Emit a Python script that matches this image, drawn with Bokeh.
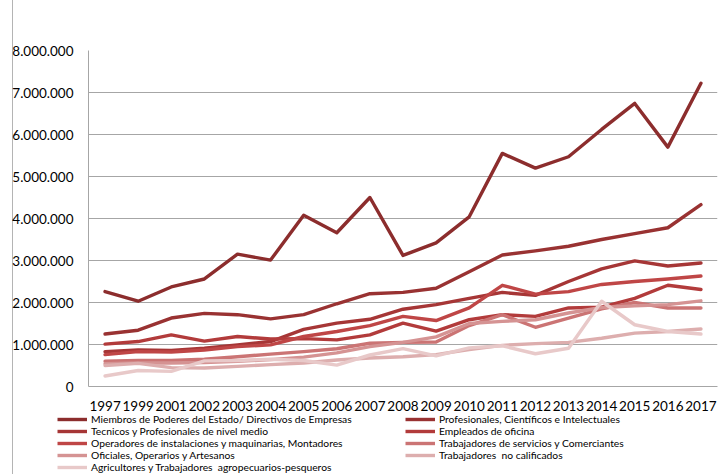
from bokeh.plotting import figure
from bokeh.layouts import column
from bokeh.models import (FactorRange, Range1d, FixedTicker, CustomJSTickFormatter,
                          Legend, LegendItem)
from bokeh.embed import file_html
from bokeh.resources import INLINE

years = ["1997", "1999", "2001", "2002", "2003", "2004", "2005", "2006", "2007", "2008",
         "2009", "2010", "2011", "2012", "2013", "2014", "2015", "2016", "2017"]

# values in millions
miembros = [2.26, 2.03, 2.37, 2.56, 3.15, 3.01, 4.08, 3.66, 4.50, 3.12, 3.42, 4.04, 5.55, 5.20, 5.47, 6.12, 6.74, 5.70, 7.22]
profesionales = [1.25, 1.34, 1.63, 1.74, 1.71, 1.61, 1.71, 1.97, 2.21, 2.24, 2.34, 2.73, 3.13, 3.23, 3.34, 3.50, 3.64, 3.78, 4.33]
tecnicos = [0.83, 0.87, 0.86, 0.91, 0.99, 1.07, 1.36, 1.51, 1.60, 1.84, 1.95, 2.10, 2.24, 2.17, 2.50, 2.80, 2.99, 2.87, 2.94]
empleados = [1.01, 1.07, 1.23, 1.08, 1.19, 1.13, 1.14, 1.11, 1.23, 1.51, 1.32, 1.59, 1.71, 1.67, 1.87, 1.89, 2.10, 2.41, 2.31]
operadores = [0.76, 0.83, 0.82, 0.87, 0.95, 0.99, 1.19, 1.31, 1.45, 1.67, 1.57, 1.87, 2.41, 2.20, 2.26, 2.43, 2.50, 2.56, 2.63]
servicios = [0.60, 0.62, 0.62, 0.65, 0.71, 0.77, 0.83, 0.90, 1.03, 1.05, 1.06, 1.45, 1.71, 1.41, 1.63, 1.85, 2.00, 1.87, 1.87]
oficiales = [0.54, 0.56, 0.56, 0.57, 0.60, 0.64, 0.70, 0.80, 0.95, 1.05, 1.18, 1.50, 1.55, 1.59, 1.75, 1.88, 1.92, 1.95, 2.04]
no_calificados = [0.50, 0.55, 0.45, 0.44, 0.48, 0.52, 0.56, 0.63, 0.68, 0.71, 0.76, 0.88, 0.98, 1.02, 1.05, 1.15, 1.27, 1.31, 1.37]
agricultores = [0.25, 0.38, 0.36, 0.61, 0.62, 0.65, 0.62, 0.51, 0.75, 0.90, 0.73, 0.92, 0.97, 0.78, 0.91, 2.03, 1.47, 1.31, 1.25]

names = ["Miembros de Poderes del Estado/ Directivos de Empresas",
         "Profesionales, Científicos e Intelectuales",
         "Tecnicos y Profesionales de nivel medio",
         "Empleados de oficina",
         "Operadores de instalaciones y maquinarias, Montadores",
         "Trabajadores de servicios y Comerciantes",
         "Oficiales, Operarios y Artesanos",
         "Trabajadores  no calificados",
         "Agricultores y Trabajadores  agropecuarios-pesqueros"]
series = [miembros, profesionales, tecnicos, empleados, operadores,
          servicios, oficiales, no_calificados, agricultores]
colors = ["#8C2D2D", "#993232", "#A63636", "#B23B3B", "#BF4646",
          "#CB7474", "#D59393", "#DDAEAE", "#E8C9C9"]
y_ticks = [0, 1e6, 2e6, 3e6, 4e6, 5e6, 6e6, 7e6, 8e6]

FONT = "Lato"
BG = {"background": "linear-gradient(to right, white 12px, #B4B4B4 12px, #B4B4B4 13px, white 13px)"}
LW = 3.4

# ---------------- main chart ----------------
p = figure(width=720, height=413,
           x_range=FactorRange(*years, range_padding=0),
           y_range=Range1d(0, 8e6),
           output_backend="svg", toolbar_location=None,
           min_border_left=88, min_border_right=3,
           min_border_top=50, min_border_bottom=26)
p.frame_align = False
p.outline_line_color = None
p.background_fill_color = "white"
p.border_fill_color = None
p.styles = BG

for vals, col in zip(series, colors):
    p.line(years, [v * 1e6 for v in vals], line_color=col, line_width=LW,
           line_join="round", line_cap="round")

p.yaxis.ticker = FixedTicker(ticks=y_ticks)
p.yaxis.formatter = CustomJSTickFormatter(code="""
    return Math.round(tick).toString().replace(/\\B(?=(\\d{3})+(?!\\d))/g, '.');
""")
for ax in (p.xaxis, p.yaxis):
    ax.axis_line_color = "#A6A6A6"
    ax.axis_line_width = 1
    ax.major_tick_line_color = None
    ax.minor_tick_line_color = None
    ax.major_label_text_font = FONT
    ax.major_label_text_font_size = "13.5px"
    ax.major_label_text_color = "black"
p.yaxis.major_label_standoff = 9
p.xaxis.major_label_standoff = 8
p.xgrid.grid_line_color = None
p.ygrid.grid_line_color = "#A6A6A6"
p.ygrid.grid_line_width = 1

# ---------------- legend strip ----------------
lf = figure(width=720, height=61, x_range=Range1d(0, 1), y_range=Range1d(0, 1),
            output_backend="svg", toolbar_location=None,
            x_axis_type=None, y_axis_type=None,
            min_border_left=0, min_border_right=0, min_border_top=0, min_border_bottom=0)
lf.frame_align = False
lf.outline_line_color = None
lf.grid.grid_line_color = None
lf.background_fill_color = None
lf.border_fill_color = None
lf.styles = BG

nan = float("nan")
leg_renderers = [lf.line([nan], [nan], line_color=col, line_width=LW) for col in colors]
order = [0, 2, 4, 6, 8, 1, 3, 5, 7]
legend = Legend(items=[LegendItem(label=names[i], renderers=[leg_renderers[i]]) for i in order],
                orientation="vertical", nrows=5,
                location=(57, 1),
                background_fill_alpha=0, border_line_alpha=0, padding=0, margin=0,
                spacing=0, glyph_height=12, label_height=12, glyph_width=30,
                label_width=314, label_standoff=4, label_text_font=FONT,
                label_text_font_size="10.3px", label_text_color="black")
lf.add_layout(legend)

layout = column(p, lf, spacing=0)
open("out.html", "w").write(file_html(layout, INLINE))
